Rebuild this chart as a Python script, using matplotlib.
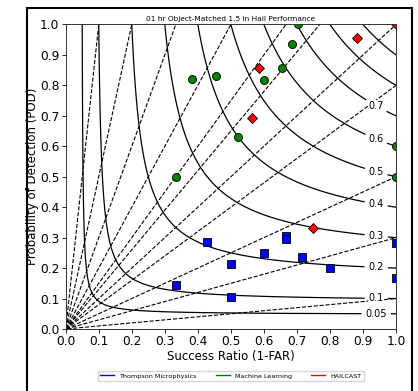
from __future__ import annotations

import matplotlib
import numpy as np

matplotlib.use("Agg")

import matplotlib.pyplot as plt
from matplotlib.lines import Line2D
from matplotlib.patches import Rectangle
from matplotlib.ticker import FormatStrFormatter

TITLE = "01 hr Object-Matched 1.5 in Hail Performance"

# success ratio / POD pairs for each forecast system
thompson_sr = [0.333, 0.5, 0.5, 0.6, 0.429, 0.667, 0.667, 0.714, 0.8, 1.0, 1.0]
thompson_pod = [0.143, 0.105, 0.212, 0.25, 0.286, 0.304, 0.294, 0.238, 0.2, 0.283, 0.167]

ml_sr = [0.333, 0.522, 0.383, 0.456, 0.601, 0.654, 0.684, 0.702, 1.0, 1.0]
ml_pod = [0.5, 0.632, 0.822, 0.832, 0.819, 0.856, 0.935, 1.0, 0.6, 0.5]

hailcast_sr = [0.586, 0.563, 0.881, 1.0, 0.75]
hailcast_pod = [0.856, 0.692, 0.955, 1.0, 0.333]

csi_levels = [0.05, 0.1, 0.2, 0.3, 0.4, 0.5, 0.6, 0.7, 0.8, 0.9]
csi_label_levels = [0.05, 0.1, 0.2, 0.3, 0.4, 0.5, 0.6, 0.7]
bias_levels = [0.1, 0.3, 0.5, 0.8, 1.0, 1.3, 1.5, 2.0, 3.0, 5.0, 10.0]


def plot_performance_diagram(output_path: str) -> None:
    fig = plt.figure(figsize=(4.18, 3.91), dpi=100)
    ax = fig.add_axes([0.1572, 0.1586, 0.7902, 0.7788])

    grid = np.linspace(0.0005, 1.0, 600)
    sr_g, pod_g = np.meshgrid(grid, grid)
    bias = pod_g / sr_g
    csi = 1.0 / (1.0 / sr_g + 1.0 / pod_g - 1.0)

    ax.contour(sr_g, pod_g, bias, bias_levels, colors="k", linewidths=0.8,
               linestyles="dashed")

    cs = ax.contour(sr_g, pod_g, csi, csi_levels, colors="k", linewidths=0.9)
    label_pos = []
    for lev in csi_label_levels:
        pod = 1.0 / (1.0 / lev - 1.0 / 0.94 + 1.0)
        label_pos.append((0.94, pod))
    labels = ax.clabel(cs, csi_label_levels, fmt="%g", fontsize=7, inline=True,
                       inline_spacing=4, manual=label_pos)
    for text in labels:
        text.set_rotation(0)
        text.set_bbox(dict(facecolor="white", edgecolor="none", pad=0.3))

    ax.plot(thompson_sr, thompson_pod, "s", color="blue", mec="k", mew=0.6, ms=6.2)
    ax.plot(ml_sr, ml_pod, "o", color="green", mec="k", mew=0.6, ms=5.8)
    ax.plot(hailcast_sr, hailcast_pod, "D", color="red", mec="k", mew=0.6, ms=5.2)

    ax.set_xlim(0, 1)
    ax.set_ylim(0, 1)
    ticks = np.arange(0, 1.01, 0.1)
    ax.set_xticks(ticks)
    ax.set_yticks(ticks)
    ax.xaxis.set_major_formatter(FormatStrFormatter("%.1f"))
    ax.yaxis.set_major_formatter(FormatStrFormatter("%.1f"))
    ax.tick_params(labelsize=8.8, length=3, width=0.6, pad=1.5)
    for spine in ax.spines.values():
        spine.set_linewidth(0.7)
        spine.set_color("#333333")
    ax.set_xlabel("Success Ratio (1-FAR)", fontsize=8.5, labelpad=1)
    ax.set_ylabel("Probability of Detection (POD)", fontsize=8.5, labelpad=1)
    ax.set_title(TITLE, fontsize=5.3, pad=2.5)

    handles = [
        Line2D([], [], color="blue", lw=1),
        Line2D([], [], color="green", lw=1),
        Line2D([], [], color="red", lw=1),
    ]
    ax.legend(handles, ["Thompson Microphysics", "Machine Learning", "HAILCAST"],
              loc="center", bbox_to_anchor=(0.5, -0.154), ncol=3, fontsize=4.6,
              columnspacing=3.0, handlelength=2.2, frameon=True)

    # frame around the whole figure, bottom edge runs off the canvas
    border = Rectangle((27 / 418, -0.1), (412 - 27) / 418, 1.1 - 8 / 391,
                       transform=fig.transFigure, fill=False, ec="k", lw=1.5,
                       clip_on=False)
    fig.patches.append(border)

    fig.savefig(output_path, dpi=100)
    plt.close(fig)


plot_performance_diagram("out.png")
